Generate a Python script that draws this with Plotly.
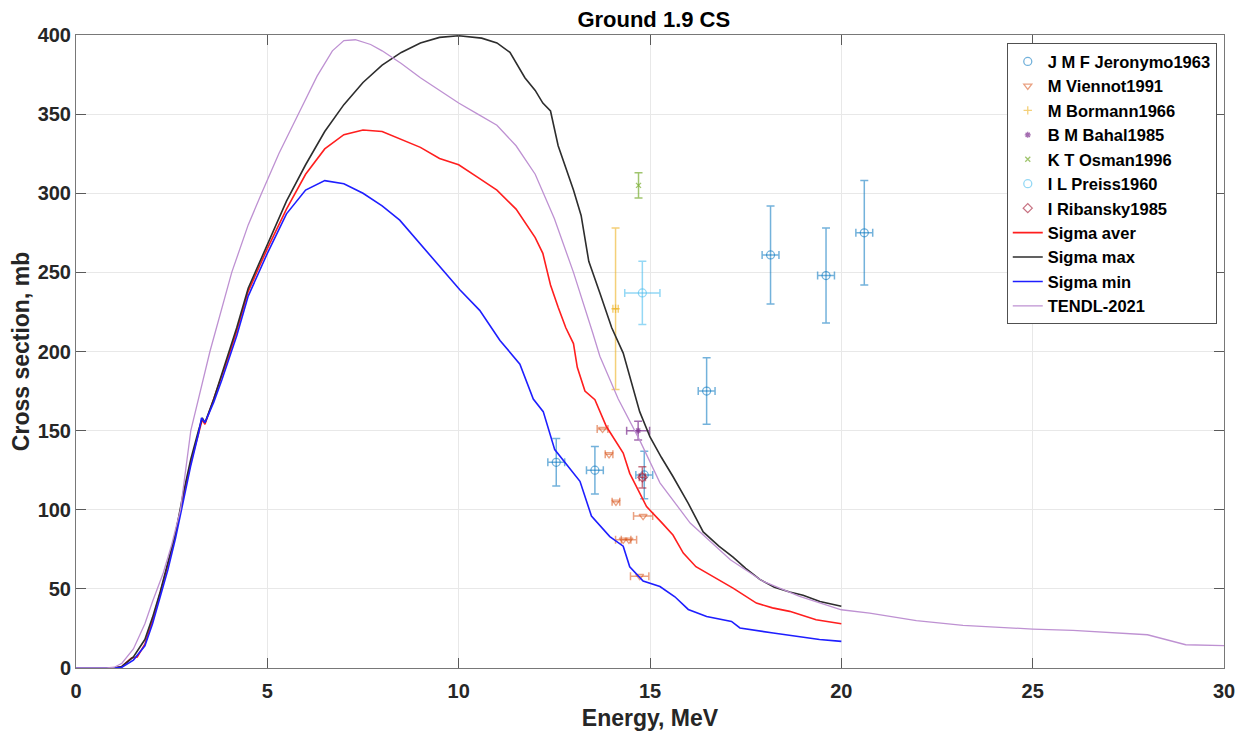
import plotly.graph_objects as go

# ---------------- data ----------------
# Experimental data sets (E in MeV, sigma in mb)
jer_E = [12.55, 13.56, 14.85, 16.48, 18.15, 19.6, 20.6]
jer_S = [130, 125, 122, 175, 261, 248, 275]
jer_dE = [0.22, 0.22, 0.22, 0.22, 0.22, 0.22, 0.22]
jer_dS = [15, 15, 15, 21, 31, 30, 33]

vie_E = [13.76, 13.93, 14.11, 14.30, 14.45, 14.82, 14.73]
vie_S = [151, 135, 105, 81, 81, 96, 58]
vie_dE = [0.14, 0.1, 0.1, 0.2, 0.2, 0.25, 0.24]

bor_E = [14.1]
bor_S = [227]
bor_dE = [0.07]
bor_dS = [51]

bah_E = [14.69]
bah_S = [150]
bah_dE = [0.3]
bah_dS = [6]

osm_E = [14.7]
osm_S = [305]
osm_dS = [8]

pre_E = [14.8]
pre_S = [237]
pre_dE = [0.46]
pre_dS = [20]

rib_E = [14.8]
rib_S = [120.5]
rib_dE = [0.08]
rib_dS = [6.7]

# Evaluated curves
max_E = [0, 1.0, 1.2, 1.5, 1.8, 2.0, 2.2, 2.4, 2.6, 2.8, 3.0, 3.2, 3.3, 3.37, 3.6, 3.8, 4.0, 4.2, 4.5,
         5.0, 5.5, 6.0, 6.5, 7.0, 7.5, 8.0, 8.5, 9.0, 9.5, 10.0, 10.6, 11.0, 11.34, 11.73, 12.0, 12.2,
         12.4, 12.6, 13.0, 13.2, 13.4, 13.69, 14.0, 14.3, 14.73, 15.0, 15.3, 15.6, 16.0, 16.39, 16.8,
         17.17, 17.5, 17.87, 18.25, 18.65, 19.0, 19.44, 20.0]
max_S = [0, 0, 1, 7, 18, 32, 48, 66, 85, 110, 132, 150, 158, 155, 170, 185, 200, 215, 240,
         268, 295, 318, 339, 356, 370, 381, 389, 395, 398.5, 399.5, 398, 395, 389, 373, 365, 357,
         352, 330, 302, 286, 257, 237, 215, 199, 162, 146, 133, 121, 104, 86, 77,
         70, 63, 56, 51, 48, 46, 42, 39]

avg_E = [0, 1.0, 1.2, 1.45, 1.6, 1.8, 2.0, 2.2, 2.4, 2.6, 2.8, 3.0, 3.2, 3.3, 3.37, 3.6, 3.8, 4.0, 4.2,
         4.5, 5.0, 5.5, 6.0, 6.5, 7.0, 7.5, 8.0, 8.5, 9.0, 9.5, 10.0, 10.5, 11.0, 11.5, 12.0, 12.2,
         12.4, 12.6, 12.8, 13.0, 13.1, 13.3, 13.56, 13.86, 14.3, 14.47, 14.91, 15.3, 15.6, 15.87,
         16.2, 16.56, 17.17, 17.78, 18.2, 18.65, 19.34, 20.0]
avg_S = [0, 0, 1, 6.3, 7, 15, 30, 48, 65, 85, 108, 130, 148, 157, 154, 170, 183, 198, 213,
         238, 265, 290, 312, 328, 337, 340, 339, 334, 329, 322, 318, 310, 302, 290, 272, 262,
         242, 228, 215, 205, 190, 175, 169.5, 152.6, 135.8, 123, 102, 92, 84, 72.6,
         64, 59, 50.5, 41, 38, 35.8, 30.5, 28]

min_E = [0, 1.0, 1.2, 1.5, 1.8, 2.0, 2.2, 2.4, 2.6, 2.8, 3.0, 3.2, 3.28, 3.37, 3.6, 3.81, 4.0, 4.2, 4.5,
         5.0, 5.5, 6.0, 6.5, 7.0, 7.5, 8.0, 8.46, 9.0, 9.5, 10.03, 10.55, 11.08, 11.6, 11.95, 12.21,
         12.51, 13.17, 13.47, 13.95, 14.3, 14.47, 14.82, 15.26, 15.65, 16.0, 16.48, 17.13, 17.35,
         18.22, 18.91, 19.43, 20.0]
min_S = [0, 0, 0.5, 5, 14, 28, 45, 62, 82, 105, 128, 148, 158, 155, 168, 182, 195, 210, 235,
         262, 287, 302, 308, 306, 300, 292, 283, 268, 254, 239, 226, 207, 192, 170, 162,
         138, 118, 96, 83, 77, 64, 55, 51.5, 45, 37, 32.6, 29.4, 25.3,
         22.1, 20, 18, 16.8]

ten_E = [0, 0.8, 1.0, 1.2, 1.5, 1.8, 2.0, 2.28, 2.5, 2.73, 3.0, 3.5, 4.07, 4.5, 4.85, 5.3, 5.85, 6.3,
         6.7, 7.0, 7.3, 7.7, 8.0, 8.5, 9.0, 9.5, 10.0, 10.5, 11.0, 11.5, 12.0, 12.5, 13.0, 13.5, 13.69,
         14.17, 14.73, 15.26, 16.05, 17.1, 17.96, 18.91, 20.0, 20.74, 21.96, 23.18, 25.0, 26.05,
         28.0, 29.0, 30.0]
ten_S = [0, 0, 0.5, 3, 12, 28, 42, 60, 78, 100, 150, 200, 250, 280, 300, 325, 352, 374,
         390, 396.5, 397, 394, 390, 382, 373, 365, 357, 350, 343, 330, 312, 284, 250, 212, 197,
         170, 144, 117, 91.6, 68.4, 54.7, 45.2, 36.8, 34.7, 29.9, 26.9, 24.6, 23.8,
         21.0, 14.7, 14.1]

x_ticks = [0, 5, 10, 15, 20, 25, 30]
y_ticks = [0, 50, 100, 150, 200, 250, 300, 350, 400]

# ---------------- figure ----------------
FONT = "Liberation Sans, Arial, sans-serif"
fig = go.Figure()


def exp_trace(name, E, S, color, symbol, size, dE=None, dS=None):
    kw = dict(x=E, y=S, mode="markers", name=name,
              marker=dict(symbol=symbol, size=size, color=color,
                          line=dict(color=color, width=1.3)))
    if dE is not None:
        kw["error_x"] = dict(type="data", array=dE, visible=True, color=color,
                             thickness=1.5, width=4)
    if dS is not None:
        kw["error_y"] = dict(type="data", array=dS, visible=True, color=color,
                             thickness=1.5, width=4)
    fig.add_trace(go.Scatter(**kw))


exp_trace("J M F Jeronymo1963", jer_E, jer_S, "rgba(0,114,189,0.55)", "circle-open", 8, jer_dE, jer_dS)
exp_trace("M Viennot1991", vie_E, vie_S, "rgba(217,83,25,0.55)", "triangle-down-open", 7, vie_dE, None)
exp_trace("M Bormann1966", bor_E, bor_S, "rgba(237,177,32,0.6)", "cross-thin-open", 6, bor_dE, bor_dS)
exp_trace("B M Bahal1985", bah_E, bah_S, "rgba(126,47,142,0.7)", "asterisk-open", 5, bah_dE, bah_dS)
exp_trace("K T Osman1996", osm_E, osm_S, "rgba(119,172,48,0.7)", "x-thin-open", 5, None, osm_dS)
exp_trace("I L Preiss1960", pre_E, pre_S, "rgba(77,190,238,0.6)", "circle-open", 8, pre_dE, pre_dS)
exp_trace("I Ribansky1985", rib_E, rib_S, "rgba(162,20,47,0.6)", "diamond-open", 7, rib_dE, rib_dS)

fig.add_trace(go.Scatter(x=avg_E, y=avg_S, mode="lines", name="Sigma aver",
                         line=dict(color="rgb(255,30,30)", width=1.6)))
fig.add_trace(go.Scatter(x=max_E, y=max_S, mode="lines", name="Sigma max",
                         line=dict(color="rgb(45,45,45)", width=1.6)))
fig.add_trace(go.Scatter(x=min_E, y=min_S, mode="lines", name="Sigma min",
                         line=dict(color="rgb(30,30,255)", width=1.6)))
fig.add_trace(go.Scatter(x=ten_E, y=ten_S, mode="lines", name="TENDL-2021",
                         line=dict(color="rgb(190,145,210)", width=1.3)))

axis_common = dict(
    showline=True, linecolor="rgb(120,120,120)", linewidth=1,
    mirror="ticks", ticks="inside", ticklen=10, tickwidth=1, tickcolor="rgb(90,90,90)",
    showgrid=True, gridcolor="rgb(232,232,232)", gridwidth=1, zeroline=False,
    automargin=False,
    tickfont=dict(family=FONT, size=20, color="rgb(38,38,38)", weight="bold"),
)

fig.update_xaxes(range=[0, 30], tickvals=x_ticks, ticktext=[str(v) for v in x_ticks],
                 ticklabelstandoff=5,
                 title=dict(text="Energy, MeV", standoff=8,
                            font=dict(family=FONT, size=23, color="rgb(38,38,38)", weight="bold")),
                 **axis_common)
fig.update_yaxes(range=[0, 400], tickvals=y_ticks, ticktext=[str(v) for v in y_ticks],
                 title=dict(text="Cross section, mb", standoff=3,
                            font=dict(family=FONT, size=23, color="rgb(38,38,38)", weight="bold")),
                 **axis_common)

fig.update_layout(
    width=1245, height=727,
    margin=dict(l=68, r=29, t=27, b=67, autoexpand=False),
    paper_bgcolor="white", plot_bgcolor="white",
    title=dict(text="Ground 1.9 CS", x=0.5187, xanchor="center", y=0.985, yanchor="middle",
               font=dict(family=FONT, size=22, color="black", weight="bold")),
    legend=dict(x=0.9937, xanchor="right", y=0.987, yanchor="top",
                bgcolor="white", bordercolor="rgb(80,80,80)", borderwidth=1,
                font=dict(family=FONT, size=16.5, color="black", weight="bold"),
                tracegroupgap=0, itemwidth=30),
    showlegend=True,
)

fig.write_html("out.html")
